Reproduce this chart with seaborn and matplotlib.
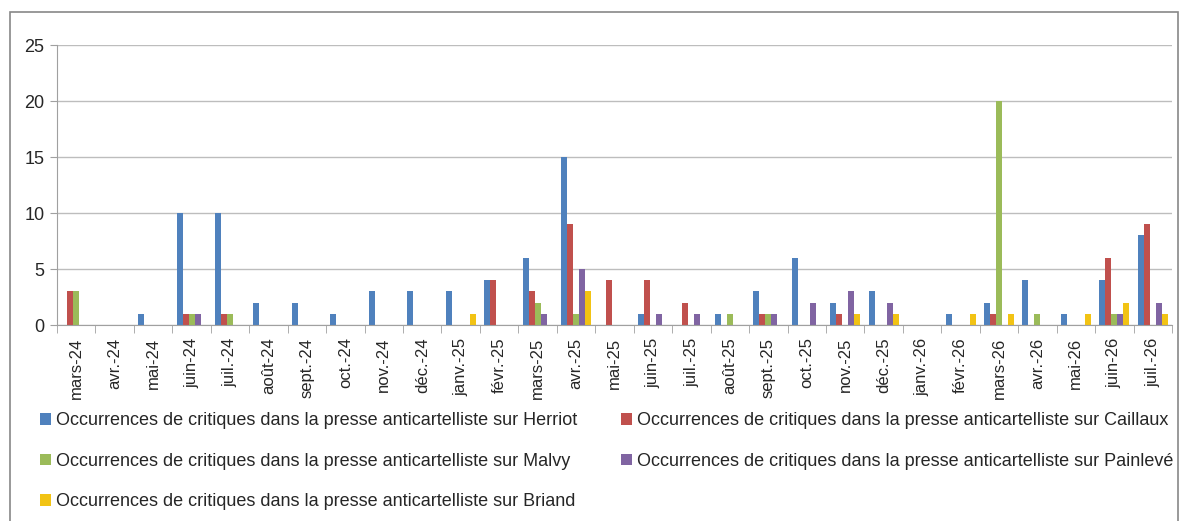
import numpy as np
import pandas as pd
import matplotlib
matplotlib.use("Agg")
import matplotlib.pyplot as plt
from matplotlib.patches import Rectangle
import seaborn as sns

# ----------------------------
# Data
# ----------------------------
months = ["mars-24", "avr.-24", "mai-24", "juin-24", "juil.-24", "août-24",
          "sept.-24", "oct.-24", "nov.-24", "déc.-24", "janv.-25", "févr.-25",
          "mars-25", "avr.-25", "mai-25", "juin-25", "juil.-25", "août-25",
          "sept.-25", "oct.-25", "nov.-25", "déc.-25", "janv.-26", "févr.-26",
          "mars-26", "avr.-26", "mai-26", "juin-26", "juil.-26"]

herriot  = [0, 0, 1, 10, 10, 2, 2, 1, 3, 3, 3, 4, 6, 15, 0, 1, 0, 1, 3, 6, 2, 3, 0, 1, 2, 4, 1, 4, 8]
caillaux = [3, 0, 0, 1, 1, 0, 0, 0, 0, 0, 0, 4, 3, 9, 4, 4, 2, 0, 1, 0, 1, 0, 0, 0, 1, 0, 0, 6, 9]
malvy    = [3, 0, 0, 1, 1, 0, 0, 0, 0, 0, 0, 0, 2, 1, 0, 0, 0, 1, 1, 0, 0, 0, 0, 0, 20, 1, 0, 1, 0]
painleve = [0, 0, 0, 1, 0, 0, 0, 0, 0, 0, 0, 0, 1, 5, 0, 1, 1, 0, 1, 2, 3, 2, 0, 0, 0, 0, 0, 1, 2]
briand   = [0, 0, 0, 0, 0, 0, 0, 0, 0, 0, 1, 0, 0, 3, 0, 0, 0, 0, 0, 0, 1, 1, 0, 1, 1, 0, 1, 2, 1]

prefix = "Occurrences de critiques dans la presse anticartelliste sur "
series = {"Herriot": herriot, "Caillaux": caillaux, "Malvy": malvy,
          "Painlevé": painleve, "Briand": briand}
colors = ["#4F81BD", "#C0504D", "#9BBB59", "#8064A2", "#F2C314"]

rows = []
for name, vals in series.items():
    for m, v in zip(months, vals):
        rows.append({"mois": m, "valeur": v, "serie": prefix + name})
df = pd.DataFrame(rows)

# ----------------------------
# Plot
# ----------------------------
sns.set_style("white")
plt.rcParams["font.family"] = ["Liberation Sans", "DejaVu Sans"]

fig = plt.figure(figsize=(11.84, 5.21), dpi=100)
ax = fig.add_axes([57 / 1184, 1 - 325 / 521, (1172 - 57) / 1184, 280 / 521])

sns.barplot(data=df, x="mois", y="valeur", hue="serie", palette=colors,
            width=0.78, dodge=True, ax=ax, saturation=1, linewidth=0)

ax.set_ylim(0, 25)
ax.set_xlim(-0.5, len(months) - 0.5)
ax.set_yticks(range(0, 26, 5))
ax.yaxis.grid(True, color="#BDBDBD", linewidth=1)
ax.set_axisbelow(True)
ax.set_xlabel("")
ax.set_ylabel("")

for s in ["top", "right"]:
    ax.spines[s].set_visible(False)
for s in ["left", "bottom"]:
    ax.spines[s].set_color("#A0A0A0")

ax.tick_params(axis="y", labelsize=13, length=5, color="#A0A0A0", left=True, pad=4,
               labelcolor="#262626")
ax.set_xticks(range(len(months)))
ax.set_xticklabels(months, rotation=90, fontsize=12)
ax.tick_params(axis="x", length=0, pad=9, labelcolor="#262626")
ax.set_xticks(np.arange(-0.5, len(months), 1), minor=True)
ax.tick_params(axis="x", which="minor", length=6, color="#A0A0A0", bottom=True)

# row-wise legend order like the original (Herriot, Caillaux / Malvy, Painlevé / Briand)
handles, labels = ax.get_legend_handles_labels()
ax.get_legend().remove()
order = [0, 2, 4, 1, 3]
fig.legend([handles[i] for i in order], [labels[i] for i in order], ncol=2,
           loc="upper left", bbox_to_anchor=(24 / 1184, 1 - 396 / 521),
           frameon=False, fontsize=13, handlelength=0.6, handleheight=0.6,
           handletextpad=0.3, columnspacing=2.4, labelspacing=1.3,
           labelcolor="#262626")

fig.patches.append(Rectangle((10 / 1184, -0.05), 1168 / 1184, 1.05 - 12 / 521,
                             transform=fig.transFigure, fill=False,
                             edgecolor="#888888", linewidth=1.2))

fig.savefig("out.png", dpi=100)
